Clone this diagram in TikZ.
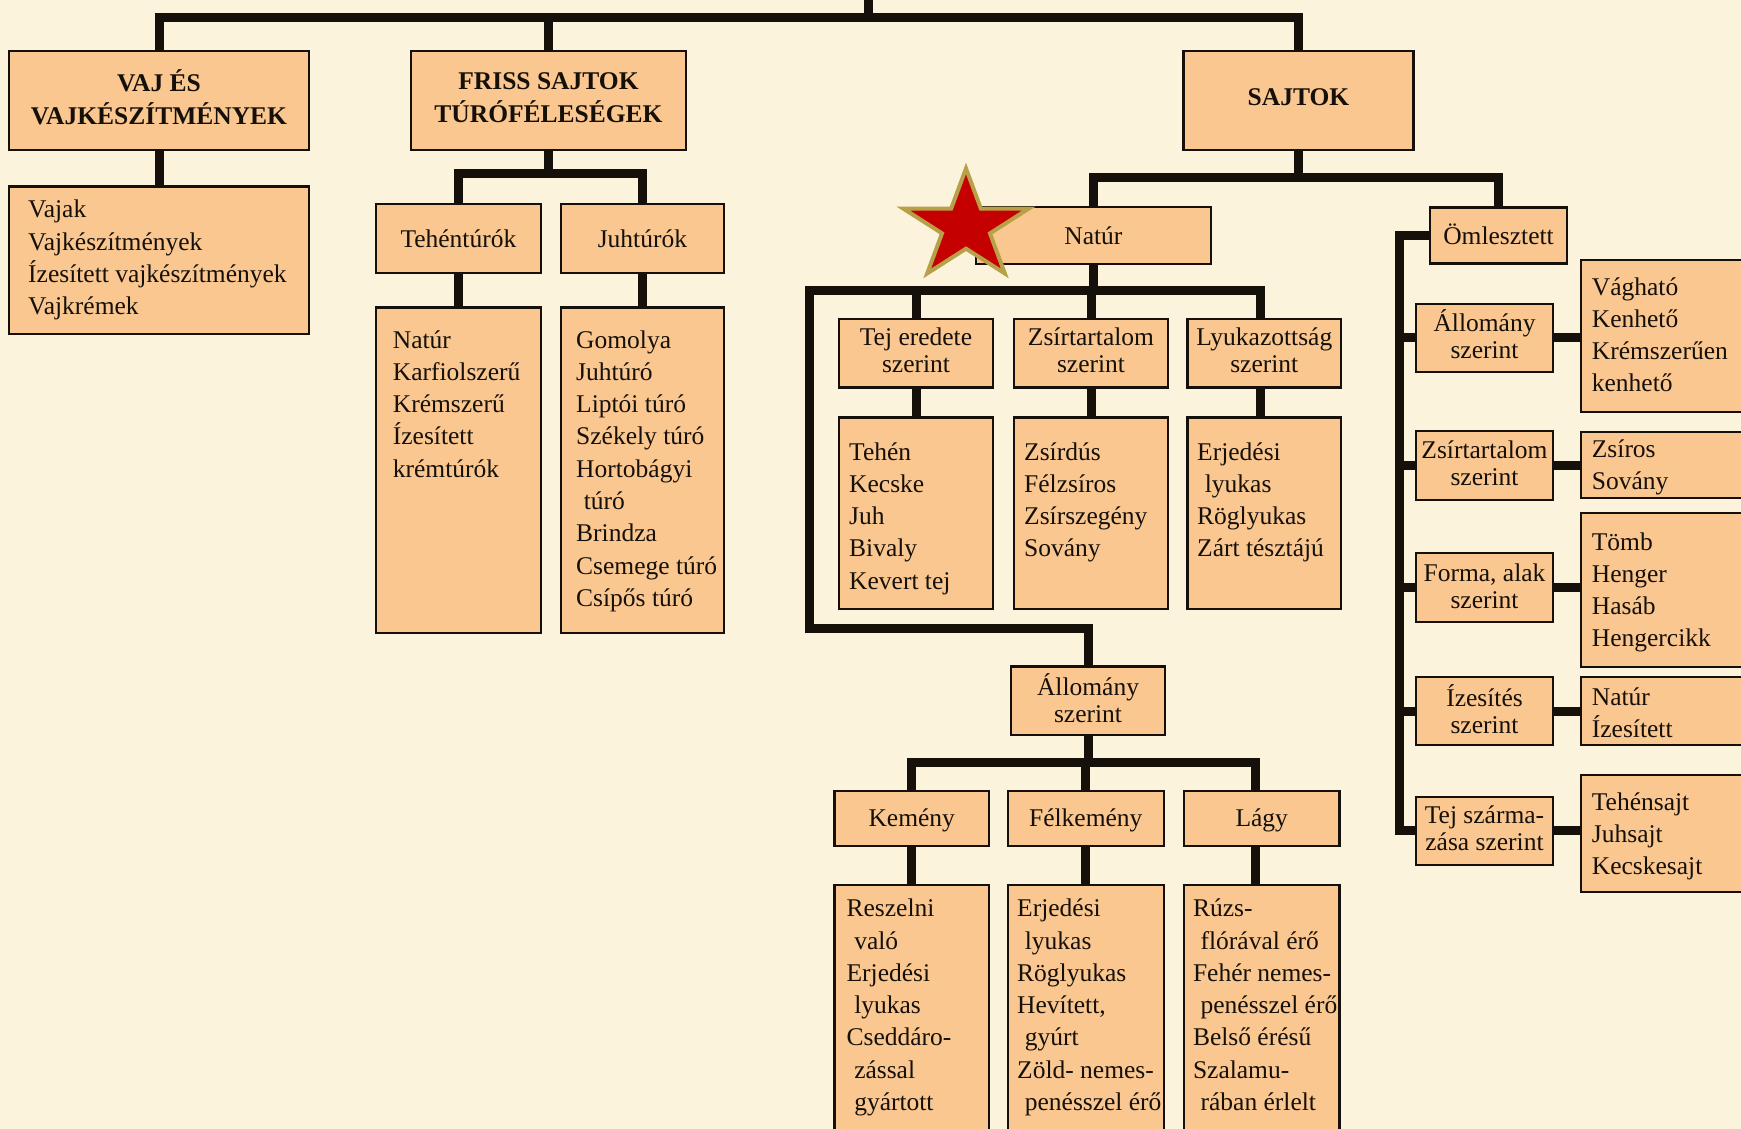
\documentclass[tikz,border=0pt]{standalone}
\usepackage{fontspec}
\setmainfont{Liberation Serif}

\definecolor{paper}{RGB}{252,243,220}
\definecolor{boxfill}{RGB}{249,199,143}
\definecolor{ink}{RGB}{22,16,10}
\definecolor{starred}{RGB}{196,0,0}
\definecolor{stargold}{RGB}{184,160,72}

\pgfdeclarelayer{paperlayer}
\pgfdeclarelayer{lines}
\pgfsetlayers{paperlayer,lines,main}

\newcommand{\lblfont}{\fontsize{25.5}{27}\selectfont}
\newcommand{\listfont}{\fontsize{25.5}{32.3}\selectfont}
\newcommand{\headfont}{\fontsize{25.5}{33}\selectfont\bfseries}
\newcommand{\ind}{\hspace*{0.3em}}
\newcommand{\items}[1]{\begin{tabular}[t]{@{}l@{}}#1\end{tabular}}
% extra depth below the last line lifts centred text a little
\newcommand{\lift}[1]{\rule[-#1]{0pt}{0pt}}

\tikzset{
  conn/.style={draw=ink, line width=9pt},
  box/.style={draw=ink, fill=boxfill, line width=2.2pt, rectangle, inner sep=0pt},
  lbl/.style={box, font=\lblfont, align=center, text=ink},
  hd/.style={box, font=\headfont, align=center, text=ink},
  lst/.style={anchor=base west, inner sep=0pt, font=\listfont, text=ink},
}

\begin{document}
\begin{tikzpicture}[x=1pt, y=-1pt]
\useasboundingbox (0,0) rectangle (1741,1129);
\begin{pgfonlayer}{paperlayer}
\fill[paper] (0,0) rectangle (1741,1129);
\end{pgfonlayer}
\clip (0,0) rectangle (1741,1129);

% helper coordinates for the bus lines
\coordinate (root) at (868,-10);
\coordinate (topbar) at (868,17.5);
\coordinate (fbar) at (548.5,174);
\coordinate (sbar) at (1298.5,177.6);
\coordinate (nbar) at (809.5,290);
\coordinate (ncorner) at (809.5,628);
\coordinate (abar) at (1088,762);
\coordinate (ov) at (1399,235.5);

% top level
\path
  (159,100.5)    node[hd, minimum width=300, minimum height=99] (vaj) {VAJ ÉS\\VAJKÉSZÍTMÉNYEK\lift{6.6pt}}
  (548.5,100.5)  node[hd, minimum width=275, minimum height=99] (friss) {FRISS SAJTOK\\TÚRÓFÉLESÉGEK\lift{6.6pt}}
  (1298.5,100.5) node[hd, minimum width=230, minimum height=99] (sajtok) {SAJTOK\lift{6.6pt}};

% fresh cheeses and butter
\path
  (159,260.25)   node[box, minimum width=300, minimum height=147.5] (vajl) {}
  (458.4,238.5)  node[lbl, minimum width=164.7, minimum height=69] (teh) {Tehéntúrók}
  (642.4,238.5)  node[lbl, minimum width=163.3, minimum height=69] (juh) {Juhtúrók}
  (458.4,470.25) node[box, minimum width=164.7, minimum height=325.5] (tehl) {}
  (642.4,470.25) node[box, minimum width=163.3, minimum height=325.5] (juhl) {};

% natural cheeses
\path
  (1093.4,235.7) node[lbl, minimum width=235.3, minimum height=56.7] (natur) {Natúr}
  (1498.5,235.5) node[lbl, minimum width=137, minimum height=56] (oml) {Ömlesztett\lift{3pt}}
  (916,353.1)    node[lbl, minimum width=154, minimum height=68.8] (tej) {Tej eredete\\szerint\lift{5pt}}
  (1091,353.1)   node[lbl, minimum width=154, minimum height=68.8] (zsirn) {Zsírtartalom\\szerint\lift{5pt}}
  (1264.25,353.1) node[lbl, minimum width=153.5, minimum height=68.8] (lyuk) {Lyukazottság\\szerint\lift{5pt}}
  (916,513.25)   node[box, minimum width=154, minimum height=191.5] (tejl) {}
  (1091,513.25)  node[box, minimum width=154, minimum height=191.5] (zsirl) {}
  (1264.25,513.25) node[box, minimum width=153.5, minimum height=191.5] (lyukl) {}
  (1088,700.75)  node[lbl, minimum width=154, minimum height=68.5] (allc) {Állomány\\szerint\lift{6pt}}
  (911.75,818.5) node[lbl, minimum width=154.5, minimum height=55.5] (kem) {\rule{0pt}{21pt}Kemény}
  (1085.8,818.5) node[lbl, minimum width=155.6, minimum height=55.5] (felk) {\rule{0pt}{21pt}Félkemény}
  (1261.75,818.5) node[lbl, minimum width=155.5, minimum height=55.5] (lagy) {\rule{0pt}{21pt}Lágy}
  (911.75,1022.5) node[box, minimum width=154.5, minimum height=275] (keml) {}
  (1085.8,1022.5) node[box, minimum width=155.6, minimum height=275] (felkl) {}
  (1261.75,1022.5) node[box, minimum width=155.5, minimum height=275] (lagyl) {};

% processed cheeses
\path
  (1484.5,337.85) node[lbl, minimum width=137.6, minimum height=67.7] (allo) {Állomány\\szerint\lift{8pt}}
  (1484.5,465.35) node[lbl, minimum width=137.6, minimum height=69.3] (zsir2) {Zsírtartalom\\szerint\lift{5pt}}
  (1484.5,587.35) node[lbl, minimum width=137.6, minimum height=68.7] (forma) {Forma, alak\\szerint\lift{2pt}}
  (1484.5,711)    node[lbl, minimum width=137.6, minimum height=68] (izes) {Ízesítés\\szerint\lift{4pt}}
  (1484.5,830.85) node[lbl, minimum width=137.6, minimum height=68.3] (tejsz) {Tej szárma-\\zása szerint\lift{5pt}}
  (1670.5,335.85) node[box, minimum width=179, minimum height=151.7] (vag) {}
  (1670.5,464.85) node[box, minimum width=179, minimum height=66.3] (zsiros) {}
  (1670.5,589.85) node[box, minimum width=179, minimum height=153.7] (tomb) {}
  (1670.5,711)    node[box, minimum width=179, minimum height=68] (natiz) {}
  (1670.5,833.35) node[box, minimum width=179, minimum height=116.7] (tehs) {};

% ---------- list texts ----------
\node[lst] (vajt) at (28,218) {\items{Vajak\\Vajkészítmények\\Ízesített vajkészítmények\\Vajkrémek}};
\node[lst] (teht) at (392.7,348) {\items{Natúr\\Karfiolszerű\\Krémszerű\\Ízesített\\krémtúrók}};
\node[lst] (juht) at (576,348) {\items{Gomolya\\Juhtúró\\Liptói túró\\Székely túró\\Hortobágyi\\\ind túró\\Brindza\\Csemege túró\\Csípős túró}};
\node[lst] (tejt) at (849,460) {\items{Tehén\\Kecske\\Juh\\Bivaly\\Kevert tej}};
\node[lst] (zsirt) at (1024,460) {\items{Zsírdús\\Félzsíros\\Zsírszegény\\Sovány}};
\node[lst] (lyukt) at (1197,460) {\items{Erjedési\\\ind lyukas\\Röglyukas\\Zárt tésztájú}};
\node[lst] (kemt) at (846.4,916.7) {\items{Reszelni\\\ind való\\Erjedési\\\ind lyukas\\Cseddáro-\\\ind zással\\\ind gyártott}};
\node[lst] (felkt) at (1017,916.7) {\items{Erjedési\\\ind lyukas\\Röglyukas\\Hevített,\\\ind gyúrt\\Zöld- nemes-\\\ind penésszel érő}};
\node[lst] (lagyt) at (1192.8,916.7) {\items{Rúzs-\\\ind flórával érő\\Fehér nemes-\\\ind penésszel érő\\Belső érésű\\Szalamu-\\\ind rában érlelt}};
\node[lst] (vagt) at (1591.7,295) {\items{Vágható\\Kenhető\\Krémszerűen\\kenhető}};
\node[lst] (zsirost) at (1591.7,457) {\items{Zsíros\\Sovány}};
\node[lst] (tombt) at (1591.7,550) {\items{Tömb\\Henger\\Hasáb\\Hengercikk}};
\node[lst] (natizt) at (1591.7,705) {\items{Natúr\\Ízesített}};
\node[lst] (tehst) at (1591.7,810) {\items{Tehénsajt\\Juhsajt\\Kecskesajt}};

% ---------- connectors (behind the boxes) ----------
\begin{pgfonlayer}{lines}
\draw[conn] (vaj.north) |- (topbar) -| (sajtok.north);
\draw[conn] (root) -- (topbar);
\draw[conn] (friss.north) -- (friss.north |- topbar);
\draw[conn] (vaj.south) -- (vajl.north);

\draw[conn] (friss.south) -- (fbar);
\draw[conn] (teh.north) |- (fbar) -| (juh.north);
\draw[conn] (teh.south) -- (tehl.north);
\draw[conn] (juh.south) -- (juhl.north);

\draw[conn] (sajtok.south) -- (sbar);
\draw[conn] (natur.north) |- (sbar) -| (oml.north);

\draw[conn] ([xshift=-4pt]lyuk.north) |- (nbar) -- (ncorner) -| (allc.north);
\draw[conn] (natur.south) -- (natur.south |- nbar);
\draw[conn] (tej.north) -- (tej.north |- nbar);
\draw[conn] (zsirn.north) -- (zsirn.north |- nbar);
\draw[conn] (tej.south) -- (tejl.north);
\draw[conn] (zsirn.south) -- (zsirl.north);
\draw[conn] ([xshift=-4pt]lyuk.south) -- ([xshift=-4pt]lyukl.north);

\draw[conn] (allc.south) -- (abar);
\draw[conn] (kem.north) |- (abar) -| ([xshift=-6pt]lagy.north);
\draw[conn] (felk.north) -- (felk.north |- abar);
\draw[conn] (kem.south) -- (keml.north);
\draw[conn] (felk.south) -- (felkl.north);
\draw[conn] ([xshift=-6pt]lagy.south) -- ([xshift=-6pt]lagyl.north);

\draw[conn] (oml.west) -- (ov) |- (tejsz.west);
\foreach \n in {allo,zsir2,forma,izes}
  \draw[conn] (ov |- \n.west) -- (\n.west);
\draw[conn] (allo.east) -- (allo.east -| vag.west);
\draw[conn] (zsir2.east) -- (zsir2.east -| zsiros.west);
\draw[conn] (forma.east) -- (forma.east -| tomb.west);
\draw[conn] (izes.east) -- (izes.east -| natiz.west);
\draw[conn] (tejsz.east) -- (tejsz.east -| tehs.west);
\end{pgfonlayer}

% ---------- star marker (slightly wider than tall) ----------
\begin{scope}[shift={(966,226.5)}, xscale=66, yscale=-58]
  \filldraw[fill=starred, draw=stargold, line width=4pt, line join=miter]
    (90:1) -- (126:0.382) -- (162:1) -- (198:0.382) -- (234:1) -- (270:0.382)
    -- (306:1) -- (342:0.382) -- (18:1) -- (54:0.382) -- cycle;
\end{scope}
\end{tikzpicture}
\end{document}
